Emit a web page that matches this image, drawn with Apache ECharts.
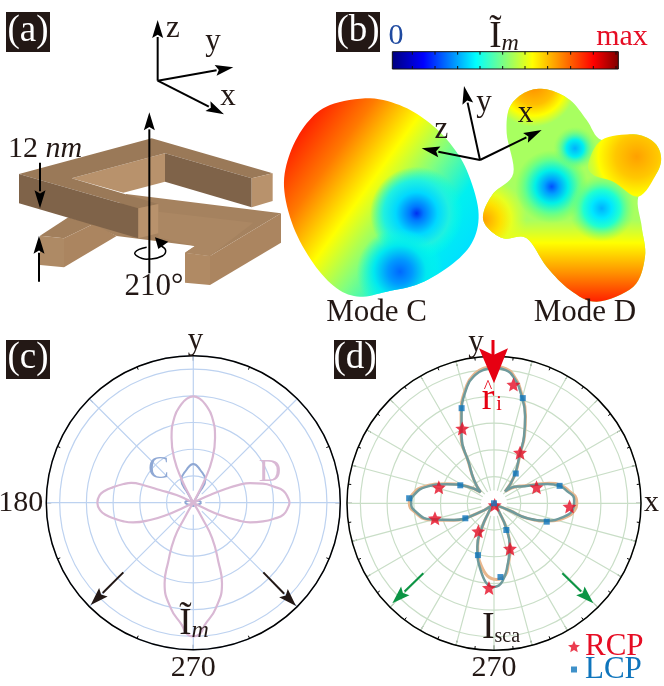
<!DOCTYPE html>
<html>
<head>
<meta charset="utf-8">
<style>html,body{margin:0;padding:0;background:#fff}#main{width:664px;height:686px}</style>
<script src="https://cdn.jsdelivr.net/npm/echarts@6/dist/echarts.min.js"></script>
</head>
<body>
<div id="main"></div>
<script>
// every pair is [radius, angle in degrees], radius counted in grid rings
const modeD = [[3.6,0],[3.56,2.5],[3.4,7.5],[3.1,11],[2.7,15.3],[2.25,19],[1.8,21.5],[1.36,23],[0.69,24.7],[0.25,27],[0,31],[0,57],[0.4,62],[0.95,63.4],[1.75,66.4],[2.55,71.4],[3.3,77.8],[3.69,82.8],[3.9,86.5],[3.98,90],[3.9,93.5],[3.69,97.2],[3.3,102.2],[2.55,108.6],[1.75,113.6],[0.95,116.6],[0.4,118],[0,123],[0,149],[0.25,153],[0.69,155.3],[1.34,159.2],[1.9,160.5],[2.44,162.3],[2.7,165],[3.05,169],[3.35,172.5],[3.52,175.5],[3.59,180],[3.5,184.5],[3.3,188],[3.0,191.5],[2.7,195],[2.37,198.1],[1.7,202],[1.1,204.8],[0.4,207],[0,211],[0,236],[0.68,240],[1.5,242],[2.4,247],[3.2,250.4],[4.05,258.1],[4.6,264.7],[4.9,267],[5,270],[4.9,273],[4.6,275.3],[4.05,281.9],[3.2,289.6],[2.4,293],[1.5,298],[0.68,300],[0,304],[0,329],[0.4,333],[1.1,335.2],[1.8,338.5],[2.25,341],[2.7,345],[3.1,349],[3.4,352.5],[3.56,357.5],[3.6,360]];
const modeC = [[0.3,0],[0.2,20],[0,38],[0,52],[0.4,60],[0.96,62.1],[1.25,78],[1.45,90],[1.25,102],[0.96,117.9],[0.4,120],[0,128],[0,142],[0.2,160],[0.3,180],[0.2,200],[0.12,230],[0.12,270],[0.12,310],[0.2,340],[0.3,360]];
const scaGray = [[3.0,0],[3.0,3.6],[2.79,9],[2.54,14.9],[2.13,19.9],[1.65,24.6],[1.18,32],[1.08,35.5],[0.6,46.7],[1.25,53.1],[2.11,62.5],[2.74,65.8],[3.45,70.3],[4.25,76.4],[4.75,80.9],[5.0,85],[5.06,90],[5.01,94.3],[4.86,98.1],[4.49,102.9],[3.47,110.5],[2.78,115.9],[1.77,122],[1.15,130.6],[0.65,140.5],[1.18,148],[1.89,157.8],[2.58,166],[3.01,174],[3.1,180],[2.95,186],[2.45,194.2],[1.62,202.6],[0.73,211],[0.1,225],[0.36,239],[0.98,243.4],[1.74,249],[2.55,258.7],[3.13,270],[2.95,276],[2.31,283],[1.73,290],[0.98,296.6],[0.36,301],[0.1,315],[0.62,335.2],[1.37,335.8],[2.1,342],[2.67,349.2],[2.95,355.1],[3.0,360]];
const scaOrange = [[3.1,0],[3.08,3.6],[2.86,9],[2.6,14.9],[2.2,19.9],[1.7,24.6],[1.22,32],[1.1,35.5],[0.6,46.7],[1.27,53.1],[2.15,62.5],[2.79,65.8],[3.5,70.3],[4.3,76.4],[4.8,80.9],[5.06,85],[5.12,90],[5.07,94.3],[4.92,98.1],[4.54,102.9],[3.52,110.5],[2.82,115.9],[1.79,122],[1.16,130.6],[0.65,140.5],[1.2,148],[1.93,157.8],[2.64,166],[3.08,174],[3.17,180],[3.0,186],[2.5,194.2],[1.65,202.6],[0.74,211],[0.1,225],[0.36,239],[0.96,243.4],[1.7,249],[2.4,258.7],[2.85,272],[2.72,279],[2.36,283],[1.78,290],[1.0,296.6],[0.36,301],[0.1,315],[0.62,335.2],[1.4,335.8],[2.14,342],[2.75,349.2],[3.03,355.1],[3.1,360]];
const rcpPoints = [[4.5,80.7],[2.13,62.8],[1.7,20.7],[2.83,357.5],[2.15,163.8],[2.28,194.3],[3.04,113],[1.2,240.8],[1.8,289.4],[3.17,266.6],[0.07,292]];
const lcpPoints = [[4.08,74.7],[1.38,53.9],[2.54,14.9],[2.09,340.8],[3.76,108.8],[1.43,151.9],[3.18,176.6],[1.21,207.6],[2.03,252.8],[2.77,275],[1.1,294.8],[0,0]];
const labelsC = {180:'180',270:'270'};
const labelsD = {0:'x',270:'270'};

const SERIF = 'Liberation Serif';
const STAR = 'path://M50 0L64 32L98 35L72 56L80 91L50 73L20 91L28 56L2 35L36 32Z';
const SQUARE = 'path://M0 0L0 0M10 10L10 10M2.5 2.5H7.5V7.5H2.5Z';
const RED = '#e60d24', BLUE = '#0f75bc', INK = '#231815';

// helpers for the drawn parts, coordinates are in 3x crop pixels of each panel
const panelA = p => [p[0] / 3, p[1] / 3];
const panelB = p => [280 + p[0] / 3, p[1] / 3];
const panelC = p => [p[0] / 3, 330 + p[1] / 3];
const panelD = p => [334 + p[0] / 3, 330 + p[1] / 3];

function poly(map, pts, fill, z) {
    return {type: 'polygon', silent: true, z: z || 5, shape: {points: pts.map(map)}, style: {fill: fill}};
}
// closed catmull-rom through an outline, only used for the blobs in (b)
function rounded(pts) {
    const out = [], n = pts.length;
    for (let i = 0; i < n; i++) {
        const p0 = pts[(i - 1 + n) % n], p1 = pts[i], p2 = pts[(i + 1) % n], p3 = pts[(i + 2) % n];
        for (let k = 0; k < 8; k++) {
            const t = k / 8, t2 = t * t, t3 = t2 * t;
            out.push([0, 1].map(j => 0.5 * (2 * p1[j] + (p2[j] - p0[j]) * t
                + (2 * p0[j] - 5 * p1[j] + 4 * p2[j] - p3[j]) * t2
                + (3 * p1[j] - p0[j] - 3 * p2[j] + p3[j]) * t3)));
        }
    }
    return out;
}
function txt(x, y, text, size, color, extra) {
    return Object.assign({type: 'text', silent: true, z: 50, x: x, y: y,
        style: Object.assign({text: text, fontFamily: SERIF, fontSize: size, fill: color || INK,
            align: 'center', verticalAlign: 'middle'}, extra && extra.style)}, extra && extra.el);
}
function arrow(map, from, to, color, width, len, half) {
    const a = map(from), b = map(to);
    const d = Math.hypot(b[0] - a[0], b[1] - a[1]);
    const ux = (b[0] - a[0]) / d, uy = (b[1] - a[1]) / d;
    const bx = b[0] - ux * len, by = b[1] - uy * len;
    return [
        {type: 'line', silent: true, z: 40, shape: {x1: a[0], y1: a[1], x2: bx + ux, y2: by + uy},
            style: {stroke: color, lineWidth: width}},
        {type: 'polygon', silent: true, z: 41, shape: {points: [b, [bx - uy * half, by + ux * half],
            [bx + ux * len * 0.18, by + uy * len * 0.18], [bx + uy * half, by - ux * half]]},
            style: {fill: color}}
    ];
}
function tag(x, y, w, h, label) {
    return [
        {type: 'rect', silent: true, z: 50, shape: {x: x, y: y, width: w, height: h}, style: {fill: '#231815'}},
        txt(x + w / 2, y + h / 2 - 1, label, 37, '#fff', {el: {z: 51}})
    ];
}
function radial(map, c, r, stops) {
    const p = map(c);
    return {type: 'radial', x: p[0], y: p[1], r: r / 3, global: true,
        colorStops: stops.map(s => ({offset: s[0], color: s[1]}))};
}
function linear(map, from, to, stops) {
    const a = map(from), b = map(to);
    return {type: 'linear', x: a[0], y: a[1], x2: b[0], y2: b[1], global: true,
        colorStops: stops.map(s => ({offset: s[0], color: s[1]}))};
}

// (a) twisted pair of bars
const graphicsA = [
    poly(panelA, [[378,582],[843,640],[630,768],[555,758],[585,738],[350,708],[265,672],[378,600]], '#a5825f', 6),
    poly(panelA, [[475,635],[760,668],[630,768],[555,758],[585,738],[475,712]], '#ab8763', 7),
    poly(panelA, [[630,768],[843,640],[843,728],[630,855]], '#ab8560', 7),
    poly(panelA, [[555,758],[630,768],[630,855],[555,848]], '#b08a64', 7),
    poly(panelA, [[120,707],[205,652],[280,672],[192,715]], '#a27f5c', 6),
    poly(panelA, [[192,715],[280,672],[350,708],[192,802]], '#ab8560', 6),
    poly(panelA, [[120,707],[192,715],[192,802],[120,795]], '#ae8a65', 6),
    poly(panelA, [[215,535],[495,460],[495,545],[370,578]], '#b8926c', 10),
    poly(panelA, [[57,522],[455,415],[818,520],[755,535],[495,460],[215,535],[475,612],[415,625]], '#9a7958', 11),
    poly(panelA, [[57,522],[415,625],[415,715],[57,610]], '#7f6349', 11),
    poly(panelA, [[495,460],[755,535],[755,622],[495,545]], '#7f6349', 11),
    poly(panelA, [[755,535],[818,520],[818,603],[755,622]], '#b8926c', 11),
    poly(panelA, [[415,625],[475,612],[475,700],[415,715]], '#b8926c', 11),
    ...arrow(panelA, [473,242], [473,60], '#000', 2, 18, 5.5),
    ...arrow(panelA, [473,242], [700,202], '#000', 2, 18, 5.5),
    ...arrow(panelA, [473,242], [672,343], '#000', 2, 18, 5.5),
    ...arrow(panelA, [448,820], [448,337], '#000', 2, 18, 5.5),
    ...arrow(panelA, [120,488], [120,625], '#000', 2, 18, 5.5),
    ...arrow(panelA, [117,845], [117,707], '#000', 2, 18, 5.5),
    {type: 'polyline', silent: true, z: 40, shape: {points: [[440,742],[405,757],[418,772],[450,777],[487,768],[497,752],[484,738]].map(panelA), smooth: 0.5},
        style: {stroke: '#000', lineWidth: 1.5, fill: 'none'}},
    poly(panelA, [[465,712],[505,725],[475,747]], '#000', 41),
    txt(173, 29, 'z', 31), txt(213, 42, 'y', 31), txt(228, 97, 'x', 31),
    txt(8, 149, '12 {i|nm}', 30, INK, {style: {align: 'left', rich: {i: {fontStyle: 'italic', fontFamily: SERIF, fontSize: 30, fill: INK}}}}),
    txt(154, 287, '210°', 31),
];

// (b) colour bar and the two radiation shapes
const jet = [[0,'#00007f'],[0.137,'#0000ff'],[0.37,'#00ffff'],[0.62,'#ffff00'],[0.89,'#ff0000'],[1,'#7f0000']];
const barTicks = [397,465,533,600,668,735,803,872,940,1008];
const outlineC = rounded([[12,560],[30,460],[80,370],[150,315],[270,295],[370,320],[450,370],[510,430],[560,510],[595,630],[580,720],[520,790],[420,850],[320,875],[240,890],[170,865],[100,790],[40,680]]);
const outlineD = rounded([[610,640],[640,580],[700,520],[680,400],[690,320],[740,275],[800,268],[870,300],[920,360],[965,420],[1060,403],[1120,425],[1143,470],[1130,520],[1075,590],[1085,680],[1095,770],[1060,860],[950,905],[870,870],[800,800],[740,715],[670,715],[620,680]]);
const outlineLobe = rounded([[925,490],[965,420],[1060,403],[1120,425],[1143,470],[1130,520],[1075,590],[1000,545],[940,525]]);
const graphicsB = [
    {type: 'rect', silent: true, z: 30, shape: {x: 280 + 337 / 3, y: 155 / 3, width: 678 / 3, height: 52 / 3},
        style: {fill: linear(panelB, [337,0], [1015,0], jet), stroke: '#111', lineWidth: 1}},
    ...barTicks.flatMap(t => [
        {type: 'line', silent: true, z: 31, shape: {x1: 280 + t / 3, y1: 155 / 3, x2: 280 + t / 3, y2: 155 / 3 + 3}, style: {stroke: '#111', lineWidth: 1}},
        {type: 'line', silent: true, z: 31, shape: {x1: 280 + t / 3, y1: 207 / 3 - 3, x2: 280 + t / 3, y2: 207 / 3}, style: {stroke: '#111', lineWidth: 1}}
    ]),
    poly(panelB, outlineC, linear(panelB, [60,400], [560,760], [[0,'#ff2400'],[0.2,'#ff7a00'],[0.42,'#ffff00'],[0.62,'#80ff80'],[0.82,'#00f0f0'],[1,'#00e0ff']]), 6),
    poly(panelB, outlineC, radial(panelB, [410,640], 140, [[0,'#0030f0'],[0.15,'#0078ff'],[0.45,'#00d8ff'],[0.7,'#20f0e0'],[1,'rgba(0,255,230,0)']]), 7),
    poly(panelB, outlineC, radial(panelB, [360,815], 130, [[0,'#0068ff'],[0.28,'#0098ff'],[0.6,'#00e8f0'],[1,'rgba(0,255,230,0)']]), 8),
    poly(panelB, outlineD, '#a8ff60', 6),
    poly(panelB, outlineD, linear(panelB, [0,660], [0,905], [[0,'rgba(255,255,0,0)'],[0.28,'#ffff00'],[0.65,'#ff9000'],[1,'#ff2000']]), 7),
    poly(panelB, outlineD, radial(panelB, [760,250], 130, [[0,'#ff8800'],[0.5,'#ffc000'],[0.75,'#ffff00'],[1,'rgba(255,255,0,0)']]), 7),
    poly(panelB, outlineD, radial(panelB, [610,660], 130, [[0,'#ffa000'],[0.4,'#ffe000'],[0.65,'#e8ff20'],[1,'rgba(220,255,40,0)']]), 7),
    poly(panelB, outlineD, radial(panelB, [815,560], 110, [[0,'#0050ff'],[0.2,'#00a0ff'],[0.45,'#00f0e8'],[0.72,'#60ff90'],[1,'rgba(120,255,100,0)']]), 8),
    poly(panelB, outlineD, radial(panelB, [965,625], 100, [[0,'#00b0ff'],[0.3,'#00e8ff'],[0.55,'#20ffd0'],[1,'rgba(120,255,100,0)']]), 8),
    poly(panelB, outlineD, radial(panelB, [885,445], 65, [[0,'#00b0ff'],[0.4,'#00f0f0'],[1,'rgba(120,255,100,0)']]), 8),
    poly(panelB, outlineLobe, radial(panelB, [1070,470], 160, [[0,'#ffa000'],[0.4,'#ffc800'],[0.72,'#ffff00'],[1,'rgba(200,255,60,0.3)']]), 9),
    ...arrow(panelB, [600,480], [552,258], '#000', 2, 18, 5.5),
    ...arrow(panelB, [600,480], [425,445], '#000', 2, 18, 5.5),
    ...arrow(panelB, [600,480], [785,390], '#000', 2, 18, 5.5),
    txt(484, 103, 'y', 31), txt(441.5, 130, 'z', 31), txt(525.5, 114, 'x', 31),
    txt(396, 36, '0', 30, '#1f4aa0'), txt(622, 37, 'max', 30, RED),
    txt(504, 37, '{a|Ĩ}{b|m}', 33, INK, {style: {rich: {a: {fontFamily: SERIF, fontSize: 37, fill: INK}, b: {fontFamily: SERIF, fontStyle: 'italic', fontSize: 24, fill: INK, verticalAlign: 'bottom'}}}}),
    txt(376.5, 313, 'Mode C', 31), txt(585, 313, 'Mode D', 31),
];

// labels and arrows sitting on the two polar plots
const graphicsPolar = [
    {type: 'circle', silent: true, z: 1, shape: {cx: 193.3, cy: 502.7, r: 12}, style: {fill: '#fff'}},
    {type: 'circle', silent: true, z: 1, shape: {cx: 494, cy: 503.3, r: 13}, style: {fill: '#fff'}},
    txt(158.5, 470, 'C', 31, '#8fa8d4'), txt(270, 473, 'D', 31, '#d9b8d4'),
    txt(195.5, 341, 'y', 31),
    txt(194, 624, '{a|Ĩ}{b|m}', 35, INK, {style: {rich: {a: {fontFamily: SERIF, fontSize: 37, fill: INK}, b: {fontFamily: SERIF, fontStyle: 'italic', fontSize: 24, fill: INK, verticalAlign: 'bottom'}}}}),
    ...arrow(panelC, [370,727], [272,825], INK, 2, 18, 6),
    ...arrow(panelC, [790,727], [888,828], INK, 2, 18, 6),
    ...arrow(panelD, [268,730], [175,820], '#0b9444', 2, 18, 6),
    ...arrow(panelD, [685,730], [778,820], '#0b9444', 2, 18, 6),
    {type: 'line', silent: true, z: 60, shape: {x1: 493, y1: 340, x2: 493, y2: 365}, style: {stroke: '#e60012', lineWidth: 3}},
    poly(panelD, [[435,55],[478,75],[522,55],[480,160]], '#e60012', 60),
    txt(476, 343, 'y', 31),
    txt(488, 399, 'r', 38, '#e60012', {el: {z: 61}}), txt(488, 388, '^', 18, '#e60012', {el: {z: 61}}), txt(499, 405, 'i', 20, '#e60012', {el: {z: 61}}),
    txt(501, 628, '{a|I}{b|sca}', 38, INK, {style: {rich: {a: {fontFamily: SERIF, fontSize: 38, fill: INK}, b: {fontFamily: SERIF, fontSize: 20, fill: INK, verticalAlign: 'bottom'}}}}),
];

function polarAxes(index, labels, step, gridColor) {
    return [{
        type: 'value', polarIndex: index, startAngle: 0, clockwise: false, min: 0, max: 360, interval: step,
        axisLine: {lineStyle: {color: '#000', width: 1.5}},
        axisTick: {inside: true, length: 5, lineStyle: {color: '#000', width: 1}},
        minorTick: {show: true, splitNumber: 2, length: 3, lineStyle: {color: '#000', width: 1}},
        axisLabel: {margin: 3, fontFamily: SERIF, fontSize: 30, color: INK, formatter: v => labels[v] || ''},
        splitLine: {show: true, lineStyle: {color: gridColor, width: 1.2}}
    }, {
        type: 'value', polarIndex: index, min: 0, max: 5.5, interval: 1,
        axisLine: {show: false}, axisTick: {show: false}, axisLabel: {show: false},
        splitLine: {show: true, lineStyle: {color: gridColor, width: 1.2}}
    }];
}
const axesC = polarAxes(0, labelsC, 45, '#bdd2f0');
const axesD = polarAxes(1, labelsD, 15, '#c9dec7');

function curve(name, polarIndex, data, color, width, z) {
    return {name: name, type: 'line', coordinateSystem: 'polar', polarIndex: polarIndex, data: data,
        showSymbol: false, smooth: 0.5, z: z, animation: false, lineStyle: {color: color, width: width}};
}
function legendItem(top, name, icon, color) {
    return {left: 568, top: top, selectedMode: false, padding: 0, itemWidth: 12, itemHeight: 12,
        data: [{name: name, icon: icon, textStyle: {color: color, fontFamily: SERIF, fontSize: 31, lineHeight: 24}}]};
}

const chart = echarts.init(document.getElementById('main'));
chart.setOption({
    animation: false,
    textStyle: {fontFamily: SERIF},
    polar: [
        {center: [193.3, 502.7], radius: 147},
        {center: [494, 503.3], radius: 147}
    ],
    angleAxis: [axesC[0], axesD[0]],
    radiusAxis: [axesC[1], axesD[1]],
    legend: [legendItem(631, 'RCP', STAR, RED), legendItem(654, 'LCP', SQUARE, BLUE)],
    series: [
        curve('Mode C', 0, modeC, '#8fa8d4', 2, 3),
        curve('Mode D', 0, modeD, '#d9b8d4', 2.2, 4),
        curve('Orange', 1, scaOrange, '#e8b78e', 3, 3),
        curve('Gray', 1, scaGray, '#6f9a9c', 2.5, 4),
        {name: 'RCP', type: 'scatter', coordinateSystem: 'polar', polarIndex: 1, data: rcpPoints, symbol: STAR, symbolSize: 14, z: 6, itemStyle: {color: RED}},
        {name: 'LCP', type: 'scatter', coordinateSystem: 'polar', polarIndex: 1, data: lcpPoints, symbol: 'rect', symbolSize: 6, z: 7, itemStyle: {color: BLUE}}
    ],
    graphic: {elements: [
        ...tag(6, 12, 44, 40, '(a)'), ...tag(336, 12, 44, 40, '(b)'),
        ...tag(6, 340, 44, 39, '(c)'), ...tag(334, 340, 42, 39, '(d)'),
        ...graphicsA, ...graphicsB, ...graphicsPolar
    ]}
});
</script>
</body>
</html>
